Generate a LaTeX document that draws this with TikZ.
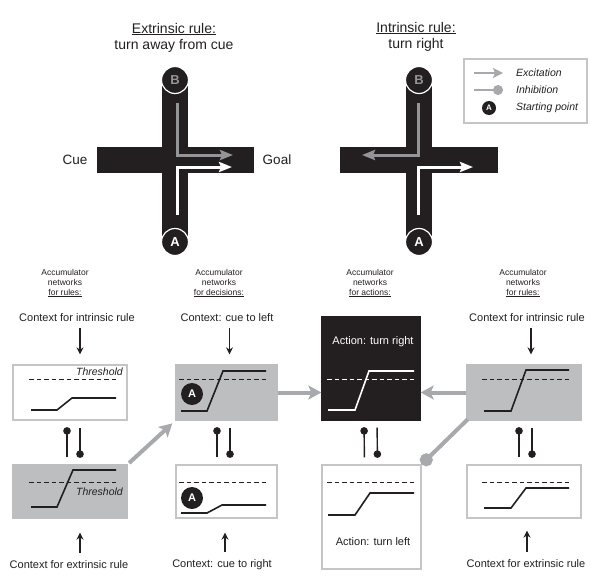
\documentclass[tikz,border=0pt]{standalone}
\usepackage{fontspec}
\setmainfont{Liberation Sans}
\usetikzlibrary{arrows.meta,calc}
\definecolor{ink}{HTML}{231F20}
\definecolor{garr}{HTML}{A7A9AC}
\definecolor{gfill}{HTML}{BCBEC0}
\definecolor{gline}{HTML}{C4C5C7}
\definecolor{gpath}{HTML}{939598}
\begin{document}
\begin{tikzpicture}[x=1pt,y=-1pt,
  every node/.style={text=ink, inner sep=0pt},
  accbox/.style={line width=1.3pt, inner sep=0pt},
  wbox/.style={accbox, draw=gline, fill=white},
  gbox/.style={accbox, draw=gfill, fill=gfill},
  kbox/.style={accbox, draw=ink, fill=ink},
  thr/.style={draw=ink, line width=0.9pt, dash pattern=on 4.5pt off 3pt},
  wthr/.style={thr, draw=white},
  accum/.style={draw=ink, line width=1.6pt, line join=miter},
  waccum/.style={accum, draw=white},
  inhib/.style={draw=ink, line width=1.4pt, -{Circle[length=7.5pt]}},
  karrow/.style={draw=ink, line width=1.2pt, -{Stealth[length=7pt,width=7pt]}},
  garrow/.style={draw=garr, line width=4pt, -{Stealth[length=13pt,width=14pt,inset=3pt]}},
  ginhib/.style={draw=garr, line width=4pt, -{Circle[length=13pt]}},
  lgarrow/.style={draw=garr, line width=1.5pt, -{Stealth[length=10pt,width=10pt,inset=2pt]}},
  lginhib/.style={draw=garr, line width=1.5pt, -{Circle[length=10pt]}},
  gpathar/.style={draw=gpath, line width=3pt, line join=miter, -{Stealth[length=13pt,width=10pt,inset=2pt]}},
  wpathar/.style={gpathar, draw=white},
  startA/.style={circle, fill=ink, minimum size=22pt, text=white, font=\bfseries\fontsize{11}{11}\selectfont},
  endcirc/.style={circle, fill=ink, draw=white, line width=1.2pt, minimum size=27pt, font=\bfseries\fontsize{13}{13}\selectfont},
  title/.style={font=\fontsize{14}{17}\selectfont, align=center},
  hdr/.style={font=\fontsize{8.5}{10}\selectfont, align=center},
  ctx/.style={font=\fontsize{11}{13}\selectfont},
  thrtxt/.style={font=\itshape\fontsize{10.5}{12}\selectfont, anchor=east},
  legtxt/.style={font=\itshape\fontsize{10.5}{12}\selectfont, anchor=west}
]
\useasboundingbox (0,0) rectangle (591,576);

% ---------- titles ----------
\node[title] (t1a) at (174,29) {\underline{Extrinsic rule:}};
\node[title] (t1b) at (174,46) {turn away from cue};
\node[title] (t2a) at (416,28) {\underline{Intrinsic rule:}};
\node[title] (t2b) at (416,45) {turn right};

% ---------- cross 1 ----------
\fill[ink] (97,147) rectangle (254,173);
\fill[ink] (162,80) rectangle (188,242);
\node[endcirc, text=gpath] (b1) at (175,80) {B};
\node[endcirc, text=white] (a1) at (175,242) {A};
\draw[gpathar] (177,103) -- (177,155) -- (233,155);
\draw[wpathar] (177,215) -- (177,167) -- (232,167);
\node[font=\fontsize{13.5}{15}\selectfont] (cue) at (75,160) {Cue};
\node[font=\fontsize{13.5}{15}\selectfont] (goal) at (277,160) {Goal};

% ---------- cross 2 ----------
\fill[ink] (340,147) rectangle (498,173);
\fill[ink] (406,80) rectangle (432,242);
\node[endcirc, text=gpath] (b2) at (419,80) {B};
\node[endcirc, text=white] (a2) at (419,242) {A};
\draw[gpathar] (418,103) -- (418,155) -- (362,155);
\draw[wpathar] (418,215) -- (418,167) -- (473,167);

% ---------- legend ----------
\node[draw=gline, line width=1.2pt, minimum width=123pt, minimum height=64pt] (legend) at (525.5,91) {};
\coordinate (le1) at (474,73); \coordinate (le2) at (503,73);
\coordinate (li1) at (474,90); \coordinate (li2) at (503,90);
\draw[lgarrow] (le1) -- (le2);
\draw[lginhib] (li1) -- (li2);
\node[startA, minimum size=14pt, font=\bfseries\fontsize{8}{8}\selectfont] (la) at (489,108) {A};
\node[legtxt] (lt1) at (516,73) {Excitation};
\node[legtxt] (lt2) at (516,90) {Inhibition};
\node[legtxt] (lt3) at (516,108) {Starting point};

% ---------- headers ----------
\node[hdr] (h1) at (65,283) {Accumulator\\networks\\\underline{for rules:}};
\node[hdr] (h2) at (219,283) {Accumulator\\networks\\\underline{for decisions:}};
\node[hdr] (h3) at (370,283) {Accumulator\\networks\\\underline{for actions:}};
\node[hdr] (h4) at (523,283) {Accumulator\\networks\\\underline{for rules:}};

% ---------- context labels ----------
\node[ctx] (c1t) at (77,318) {Context for intrinsic rule};
\node[ctx] (c2t) at (227,318) {Context: cue to left};
\node[ctx] (c4t) at (527,318) {Context for intrinsic rule};
\node[ctx] (c1b) at (69,565) {Context for extrinsic rule};
\node[ctx] (c2b) at (222,565) {Context: cue to right};
\node[ctx] (c4b) at (526,564) {Context for extrinsic rule};

% ---------- boxes ----------
\node[wbox, minimum width=114pt, minimum height=55pt] (box1) at (70,392.5) {};
\node[gbox, minimum width=114pt, minimum height=53pt] (box2) at (70,491.5) {};
\node[gbox, minimum width=101pt, minimum height=55pt] (box3) at (226.5,392.5) {};
\node[wbox, minimum width=101pt, minimum height=53pt] (box4) at (226.5,491.5) {};
\node[kbox, minimum width=98pt, minimum height=103pt] (box5) at (371,368.5) {};
\node[wbox, minimum width=99pt, minimum height=104pt] (box6) at (371.5,517) {};
\node[gbox, minimum width=114pt, minimum height=55pt] (box7) at (524,392.5) {};
\node[wbox, minimum width=114pt, minimum height=53pt] (box8) at (524,491.5) {};

% box contents
\draw[thr] (29,379) -- (118,379);
\draw[accum] (31,410) -- (57,410) -- (72,398) -- (116,398);
\node[thrtxt] (th1) at (123,372) {Threshold};

\draw[thr] (29,482) -- (118,482);
\draw[accum] (31,507) -- (57,507) -- (73,470) -- (116,470);
\node[thrtxt] (th2) at (123,492) {Threshold};

\draw[thr] (179,379) -- (268,379);
\draw[accum] (181,411) -- (207,411) -- (223,371) -- (266,371);
\node[startA] (sa1) at (192,394) {A};

\draw[thr] (179,482) -- (268,482);
\draw[accum] (181,513) -- (207,513) -- (222,505) -- (266,505);
\node[startA] (sa2) at (192,498) {A};

\node[ctx, text=white] (act1) at (373,342) {Action: turn right};
\draw[wthr] (327,379) -- (416,379);
\draw[waccum] (328,410) -- (355,410) -- (369,371) -- (414,371);

\draw[thr] (327,482) -- (416,482);
\draw[accum] (328,515) -- (355,515) -- (370,493) -- (414,493);
\node[ctx] (act2) at (373,542) {Action: turn left};

\draw[thr] (482,379) -- (572,379);
\draw[accum] (484,411) -- (511,411) -- (526,370) -- (569,370);

\draw[thr] (482,482) -- (572,482);
\draw[accum] (484,508) -- (511,508) -- (526,488) -- (569,488);

% ---------- context arrows ----------
\draw[karrow, shorten <=6pt, shorten >=10pt] ([xshift=10pt]box1.north |- c1t.south) -- ([xshift=10pt]box1.north);
\draw[karrow, shorten <=6pt, shorten >=10pt] ([xshift=3pt]box3.north |- c2t.south) -- ([xshift=3pt]box3.north);
\draw[karrow, shorten <=6pt, shorten >=10pt] ([xshift=7pt]box7.north |- c4t.south) -- ([xshift=7pt]box7.north);
\draw[karrow, shorten <=8pt, shorten >=14pt] ([xshift=10pt]box2.south |- c1b.north) -- ([xshift=10pt]box2.south);
\draw[karrow, shorten <=8pt, shorten >=14pt] ([xshift=-1.5pt]box4.south |- c2b.north) -- ([xshift=-1.5pt]box4.south);
\draw[karrow, shorten <=8pt, shorten >=12pt] ([xshift=3pt]box8.south |- c4b.north) -- ([xshift=3pt]box8.south);

% ---------- mutual inhibition ----------
\foreach \up/\dn/\dx in {box1/box2/-3, box3/box4/-9.5, box5/box6/-7, box7/box8/-5}{
  \draw[inhib, shorten <=7pt, shorten >=6.5pt] ([xshift=\dx pt]\dn.north) -- ([xshift=\dx pt]\up.south);
  \draw[inhib, shorten <=7pt, shorten >=6.5pt] ([xshift=\dx pt+13pt]\up.south) -- ([xshift=\dx pt+13pt]\dn.north);
}

% ---------- gray connectors ----------
\draw[garrow, shorten <=2pt, shorten >=4pt] (box2.north east) -- (box3.south west);
\draw[garrow] (box3.east) -- (box3.east -| box5.west);
\draw[garrow] (box7.west) -- (box7.west -| box5.east);
\draw[ginhib, shorten <=-2pt] (box7.south west) -- (box6.north east);
\end{tikzpicture}
\end{document}
